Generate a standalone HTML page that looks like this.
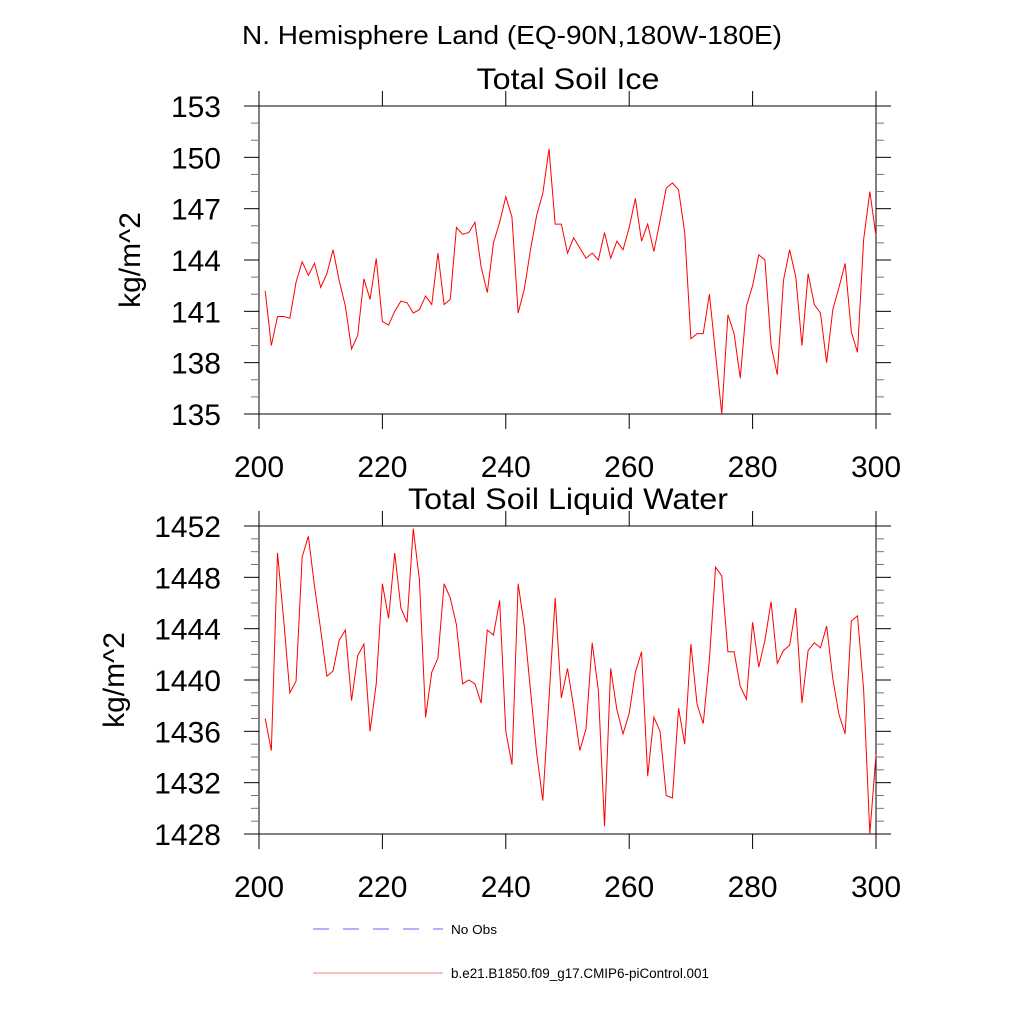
<!DOCTYPE html>
<html><head><meta charset="utf-8"><style>
body{margin:0;background:#fff;}
svg text{font-family:"Liberation Sans",Arial,sans-serif;fill:#000;}
</style></head><body>
<svg id="c" width="1024" height="1024" xmlns="http://www.w3.org/2000/svg">
<text x="512" y="44" font-size="26" text-anchor="middle" textLength="540" lengthAdjust="spacingAndGlyphs">N. Hemisphere Land (EQ-90N,180W-180E)</text>
<g id="p1"></g>
<g id="p2"></g>
<g>
<line x1="313" y1="929" x2="443" y2="929" stroke="#6666ff" stroke-width="1" stroke-dasharray="16,14"/>
<text x="451" y="934" font-size="13" textLength="46" lengthAdjust="spacingAndGlyphs">No Obs</text>
<line x1="313" y1="973" x2="443" y2="973" stroke="#f08080" stroke-width="1"/>
<text x="451" y="978" font-size="13.5" textLength="258" lengthAdjust="spacingAndGlyphs">b.e21.B1850.f09_g17.CMIP6-piControl.001</text>
</g>
</svg>
<script>
const years = Array.from({length:100},(_,i)=>201+i);
const iceValues = [142.2,139.0,140.7,140.7,140.6,142.7,143.9,143.1,143.8,142.4,143.2,144.6,142.8,141.3,138.8,139.6,142.9,141.7,144.1,140.4,140.2,141.0,141.6,141.5,140.9,141.1,141.9,141.4,144.4,141.4,141.7,145.9,145.5,145.6,146.2,143.6,142.1,145.0,146.2,147.7,146.5,140.9,142.3,144.6,146.6,147.9,150.5,146.1,146.1,144.4,145.3,144.7,144.1,144.4,144.0,145.6,144.1,145.1,144.6,145.9,147.6,145.1,146.1,144.5,146.3,148.2,148.5,148.1,145.6,139.4,139.7,139.7,142.0,138.5,135.0,140.8,139.7,137.1,141.3,142.5,144.3,144.0,139.0,137.3,142.8,144.6,143.0,139.0,143.2,141.4,140.9,138.0,141.1,142.4,143.8,139.8,138.6,145.2,148.0,145.4];
const liquidValues = [1437.0,1434.5,1449.9,1444.7,1439.0,1439.9,1449.6,1451.2,1447.3,1443.9,1440.3,1440.7,1443.1,1443.9,1438.4,1441.9,1442.8,1436.0,1439.7,1447.5,1444.8,1449.9,1445.6,1444.5,1451.8,1447.8,1437.1,1440.6,1441.7,1447.5,1446.4,1444.3,1439.7,1440.0,1439.7,1438.2,1443.9,1443.5,1446.2,1436.0,1433.4,1447.5,1444.2,1439.2,1434.3,1430.6,1438.5,1446.4,1438.6,1440.9,1437.9,1434.5,1436.2,1442.9,1439.2,1428.6,1440.9,1437.7,1435.8,1437.4,1440.6,1442.2,1432.5,1437.1,1436.0,1431.0,1430.8,1437.8,1435.0,1442.8,1438.1,1436.6,1441.6,1448.8,1448.1,1442.2,1442.2,1439.5,1438.5,1444.5,1441.0,1443.1,1446.1,1441.3,1442.3,1442.7,1445.6,1438.2,1442.3,1442.9,1442.5,1444.2,1440.1,1437.3,1435.8,1444.6,1445.0,1439.2,1428.0,1434.2];
const xTicks = [200,220,240,260,280,300];
const iceTicks = [135,138,141,144,147,150,153];
const liquidTicks = [1428,1432,1436,1440,1444,1448,1452];
const NS='http://www.w3.org/2000/svg';
function mk(parent,tag,attrs){const e=document.createElementNS(NS,tag);for(const k in attrs)e.setAttribute(k,attrs[k]);parent.appendChild(e);return e;}
function panel(g,top,title,vals,ticks,minorStep,labelX,titleLen){
  const L=259,R=876,T=top,B=top+308;
  const xs=v=>L+(v-200)/100*(R-L);
  const y0=ticks[0],y1=ticks[ticks.length-1];
  const ys=v=>B-(v-y0)/(y1-y0)*(B-T);
  const fr=mk(g,'rect',{x:L,y:T,width:R-L,height:B-T,fill:'none',stroke:'#000','stroke-width':1});
  
  
  const t=mk(g,'text',{x:568,y:T-17,'font-size':30,'text-anchor':'middle',textLength:titleLen,lengthAdjust:'spacingAndGlyphs'});t.textContent=title;
  
  
  xTicks.forEach(v=>{
    const x=xs(v);
    mk(g,'line',{x1:x,y1:B,x2:x,y2:B+15,stroke:'#000'});
    mk(g,'line',{x1:x,y1:T,x2:x,y2:T-15,stroke:'#000'});
    const tl=mk(g,'text',{x:x,y:B+63,'font-size':30,'text-anchor':'middle'});tl.textContent=v;
    
    
  });
  for(let v=y0;v<=y1+1e-9;v+=minorStep){
    const y=ys(v);const major=ticks.some(k=>Math.abs(k-v)<1e-6);const len=major?15:8;
    mk(g,'line',{x1:L,y1:y,x2:L-len,y2:y,stroke:major?'#000':'#777'});
    mk(g,'line',{x1:R,y1:y,x2:R+len,y2:y,stroke:major?'#000':'#777'});
  }
  ticks.forEach(v=>{
    const tl=mk(g,'text',{x:L-38,y:ys(v)+11,'font-size':30,'text-anchor':'end'});tl.textContent=v;
    
    
  });
  const yl=mk(g,'text',{x:labelX,y:(T+B)/2,'font-size':30,'text-anchor':'middle',transform:`rotate(-90 ${labelX} ${(T+B)/2})`});yl.textContent='kg/m^2';
  
  
  const pl=mk(g,'polyline',{points:vals.map((v,i)=>xs(years[i])+','+ys(v)).join(' '),fill:'none',stroke:'#ff0000','stroke-width':1});
  
  
}
panel(document.getElementById('p1'),106,'Total Soil Ice',iceValues,iceTicks,1,140,183);
panel(document.getElementById('p2'),526,'Total Soil Liquid Water',liquidValues,liquidTicks,1,124,320);
</script>
</body></html>
